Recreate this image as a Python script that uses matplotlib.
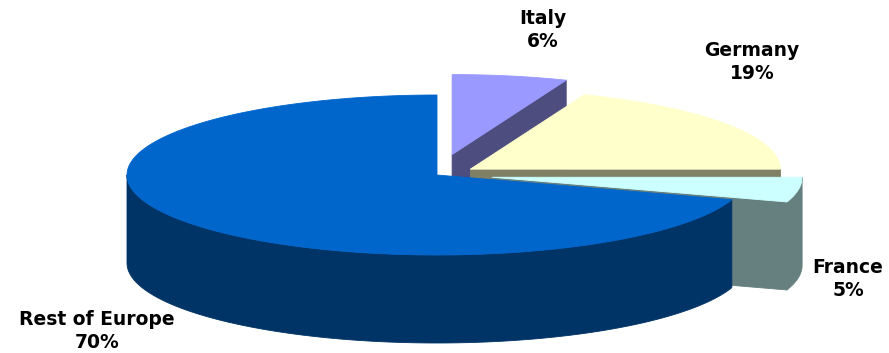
import numpy as np
import matplotlib.pyplot as plt
from matplotlib.patches import Polygon

# slice data (clockwise from 12 o'clock)
labels = ["Italy", "Germany", "France", "Rest of Europe"]
shares = [6, 19, 5, 70]
explode = [0.26, 0.13, 0.18, 0.0]
top_colors = ["#9999FF", "#FFFFCC", "#CCFFFF", "#0066CC"]
side_colors = ["#4D4D80", "#808066", "#668080", "#003366"]
label_pos = [(543, 30), (752, 62), (848, 279), (97, 331)]

W, H = 889, 353
CX, CY = 437, 175      # pie centre
RX, RY = 310, 80       # ellipse half axes of the top face
DEPTH = 88             # thickness of the pie


def rim(theta, cx, cy, dz=0.0):
    t = np.radians(theta)
    return np.column_stack([cx + RX * np.sin(t), cy - RY * np.cos(t) + dz])


def cut_face(theta, cx, cy):
    p = rim(np.array([theta]), cx, cy)[0]
    return [(cx, cy), tuple(p), (p[0], p[1] + DEPTH), (cx, cy + DEPTH)]


fig = plt.figure(figsize=(W / 100, H / 100), dpi=100)
ax = fig.add_axes([0, 0, 1, 1])
ax.set_xlim(0, W)
ax.set_ylim(H, 0)
ax.axis("off")

total = sum(shares)
start = 0.0
for lab, s, ex, ctop, cside in zip(labels, shares, explode, top_colors, side_colors):
    t1 = start
    t2 = start + 360.0 * s / total
    start = t2
    mid = np.radians((t1 + t2) / 2)
    cx = CX + ex * RX * np.sin(mid)
    cy = CY - ex * RY * np.cos(mid)

    kw = dict(closed=True, lw=0.6, joinstyle="round")
    # radial faces turned towards the viewer
    if np.sin(np.radians(t2)) > 1e-6:
        ax.add_patch(Polygon(cut_face(t2, cx, cy), fc=cside, ec=cside, **kw))
    if np.sin(np.radians(t1)) < -1e-6:
        ax.add_patch(Polygon(cut_face(t1, cx, cy), fc=cside, ec=cside, **kw))

    # outer wall, front half only
    a, b = max(t1, 90.0), min(t2, 270.0)
    if a < b:
        th = np.linspace(a, b, 200)
        upper = rim(th, cx, cy)
        lower = rim(th[::-1], cx, cy, DEPTH)
        ax.add_patch(Polygon(np.vstack([upper, lower]), fc=cside, ec=cside, **kw))

    # top face
    th = np.linspace(t1, t2, max(int(t2 - t1) * 3, 20))
    top = np.vstack([[cx, cy], rim(th, cx, cy)])
    ax.add_patch(Polygon(top, fc=ctop, ec=ctop, **kw))

for lab, s, (x, y) in zip(labels, shares, label_pos):
    ax.text(x, y, f"{lab}\n{s}%", ha="center", va="center", fontsize=13.5,
            fontweight="bold", linespacing=1.3, color="black")

fig.savefig("out.png", dpi=100)
